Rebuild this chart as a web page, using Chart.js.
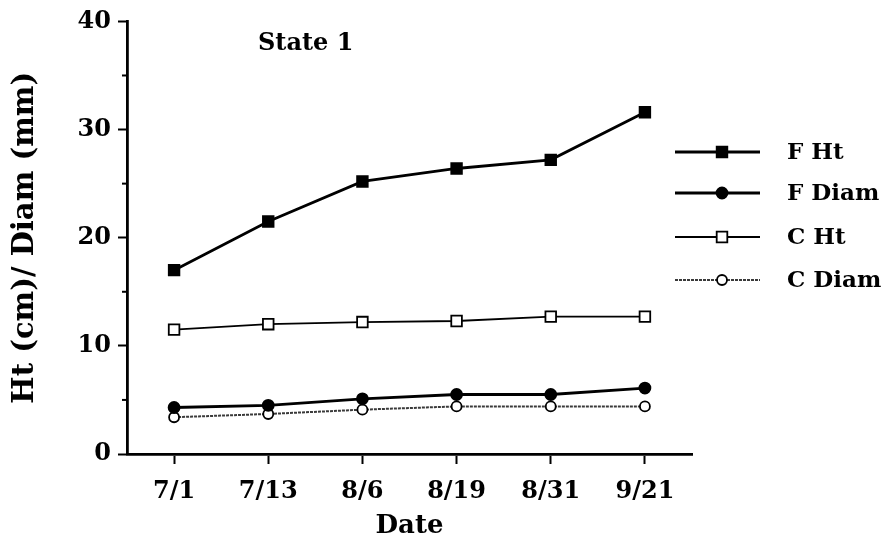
<!DOCTYPE html>
<html>
<head>
<meta charset="utf-8">
<script src="https://cdn.jsdelivr.net/npm/chart.js@4.4.1/dist/chart.umd.min.js"></script>
<style>
  html, body { margin: 0; padding: 0; background: #fff; }
  #wrap { width: 887px; height: 544px; position: relative; }
</style>
</head>
<body>
<div id="wrap"><canvas id="c"></canvas></div>
<script>
// Sampling dates
const dates = ['7/1', '7/13', '8/6', '8/19', '8/31', '9/21'];

// Height (cm) and diameter (mm) per treatment
const fHt   = [17.0, 21.5, 25.2, 26.4, 27.2, 31.6];
const fDiam = [4.3, 4.5, 5.1, 5.5, 5.5, 6.1];
const cHt   = [11.5, 12.0, 12.2, 12.3, 12.7, 12.7];
const cDiam = [3.4, 3.7, 4.1, 4.4, 4.4, 4.4];

const seriesNames = ['F Ht', 'F Diam', 'C Ht', 'C Diam'];
const yMajorTicks = [0, 10, 20, 30, 40];
const panelTitle = 'State 1';

const FONT = '"DejaVu Serif", "Liberation Serif", serif';

const styles = [
  { color: '#000', width: 2.8, point: 'rect',   radius: 7.5, fill: '#000', dash: [] },
  { color: '#000', width: 2.8, point: 'circle', radius: 5.5, fill: '#000', dash: [] },
  { color: '#000', width: 1.8, point: 'rect',   radius: 7.5, fill: '#fff', dash: [] },
  { color: '#3a3a3a', width: 2, point: 'circle', radius: 5, fill: '#fff', dash: [3, 1] }
];
const seriesData = [fHt, fDiam, cHt, cDiam];

const datasets = seriesData.map((d, i) => ({
  label: seriesNames[i],
  data: d,
  borderColor: styles[i].color,
  borderWidth: styles[i].width,
  borderDash: styles[i].dash,
  tension: 0,
  pointStyle: styles[i].point,
  pointRadius: styles[i].radius,
  pointBackgroundColor: styles[i].fill,
  pointBorderColor: '#000',
  pointBorderWidth: 1.8
}));

// Short minor ticks on the value axis, the panel title and the legend
const decorations = {
  id: 'decorations',
  afterDraw(chart) {
    const ctx = chart.ctx;
    const y = chart.scales.y;
    const area = chart.chartArea;
    ctx.save();
    ctx.strokeStyle = '#000';
    ctx.lineWidth = 2;
    for (let v = 5; v < 40; v += 10) {
      const py = y.getPixelForValue(v);
      ctx.beginPath();
      ctx.moveTo(area.left - 5, py);
      ctx.lineTo(area.left, py);
      ctx.stroke();
    }

    ctx.fillStyle = '#000';
    ctx.font = 'bold 24px ' + FONT;
    ctx.textBaseline = 'middle';
    ctx.textAlign = 'left';
    ctx.fillText(panelTitle, 258, 44);

    const rows = [152, 193, 237, 280];
    const x0 = 675, x1 = 760, xm = 722;
    rows.forEach((ry, i) => {
      const s = styles[i];
      ctx.strokeStyle = s.color;
      ctx.lineWidth = s.width;
      ctx.setLineDash(s.dash);
      ctx.beginPath();
      ctx.moveTo(x0, ry);
      ctx.lineTo(x1, ry);
      ctx.stroke();
      ctx.setLineDash([]);
      ctx.fillStyle = s.fill;
      ctx.strokeStyle = '#000';
      ctx.lineWidth = 1.8;
      ctx.beginPath();
      if (s.point === 'rect') {
        const h = s.radius * Math.SQRT1_2;
        ctx.rect(xm - h, ry - h, 2 * h, 2 * h);
      } else {
        ctx.arc(xm, ry, s.radius, 0, Math.PI * 2);
      }
      ctx.fill();
      ctx.stroke();
      ctx.fillStyle = '#000';
      ctx.font = 'bold 23px ' + FONT;
      ctx.textAlign = 'left';
      ctx.textBaseline = 'middle';
      ctx.fillText(seriesNames[i], 787, ry + 1);
    });
    ctx.restore();
  }
};

new Chart(document.getElementById('c'), {
  type: 'line',
  data: { labels: dates, datasets },
  plugins: [decorations],
  options: {
    responsive: true,
    maintainAspectRatio: false,
    animation: false,
    layout: { padding: { top: 20, right: 195, bottom: 0, left: 0 } },
    plugins: { legend: { display: false }, tooltip: { enabled: false } },
    scales: {
      x: {
        type: 'category',
        offset: true,
        afterFit(scale) { scale.height = 90; },
        border: { display: true, color: '#000', width: 2.8 },
        grid: { display: true, drawOnChartArea: false, drawTicks: true, tickLength: 10, tickWidth: 2, tickColor: '#000', offset: false },
        ticks: { color: '#000', font: { family: FONT, size: 24, weight: 'bold' }, padding: 13, maxRotation: 0, autoSkip: false },
        title: { display: true, text: 'Date', color: '#000', font: { family: FONT, size: 26, weight: 'bold' }, padding: { top: 0, bottom: 2 } }
      },
      y: {
        min: 0,
        max: 40,
        afterFit(scale) { scale.width = 127; },
        afterBuildTicks(scale) { scale.ticks = yMajorTicks.map(v => ({ value: v })); },
        border: { display: true, color: '#000', width: 2.8 },
        grid: { display: true, drawOnChartArea: false, drawTicks: true, tickLength: 9, tickWidth: 2, tickColor: '#000' },
        ticks: { color: '#000', font: { family: FONT, size: 24, weight: 'bold' }, padding: 7 },
        title: { display: true, text: 'Ht (cm)/ Diam (mm)', color: '#000', font: { family: FONT, size: 29, weight: 'bold' }, padding: { top: 8, bottom: 0 } }
      }
    }
  }
});
</script>
</body>
</html>
